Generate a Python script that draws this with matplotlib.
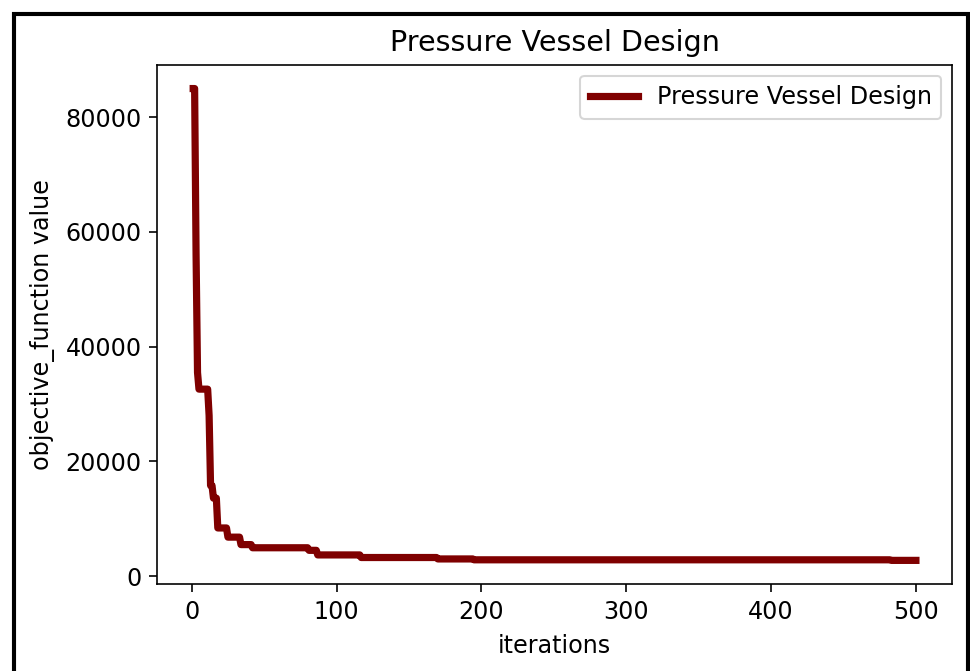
import numpy as np
import matplotlib
matplotlib.use("Agg")
import matplotlib.pyplot as plt
from matplotlib.patches import Rectangle

# Best-so-far objective value: each value holds from its start iteration
# until the next start iteration (iterations 1..500)
start_iters = [1, 3, 4, 5, 12, 13, 15, 18, 25, 34, 42, 81, 87, 117, 170, 195, 483]
best_values = [85000, 56000, 35500, 32600, 28000, 15800, 13600, 8400, 6800, 5500,
               4950, 4500, 3700, 3250, 3000, 2850, 2750]
last_iter = 500

title = "Pressure Vessel Design"
xlabel = "iterations"
ylabel = "objective_function value"
line_color = "#7f0000"

counts = np.diff(start_iters + [last_iter + 1])
iterations = np.arange(1, last_iter + 1)
values = np.repeat(best_values, counts)

s = 1.16
plt.rcParams.update({
    "font.size": 10 * s,
    "xtick.major.size": 3.5 * s,
    "ytick.major.size": 3.5 * s,
})

DPI = 148
fig = plt.figure(figsize=(970 / DPI, 671 / DPI), dpi=DPI)
ax = fig.add_axes([0.1619, 0.1297, 0.8196, 0.7735])
ax.plot(iterations, values, color=line_color, linewidth=3.5, label=title)
ax.set_title(title, pad=6 * s)
ax.set_xlabel(xlabel, labelpad=5)
ax.set_ylabel(ylabel, labelpad=5)
ax.set_xticks([0, 100, 200, 300, 400, 500])
ax.set_yticks([0, 20000, 40000, 60000, 80000])
ax.legend(loc="upper right", borderaxespad=0.45)

fig.add_artist(Rectangle((14 / 970, -0.05), (967.5 - 14) / 970, 1 - 14 / 671 + 0.05,
                         transform=fig.transFigure, fill=False, edgecolor="black",
                         linewidth=2.0, clip_on=False))

fig.savefig("out.png", dpi=DPI)
